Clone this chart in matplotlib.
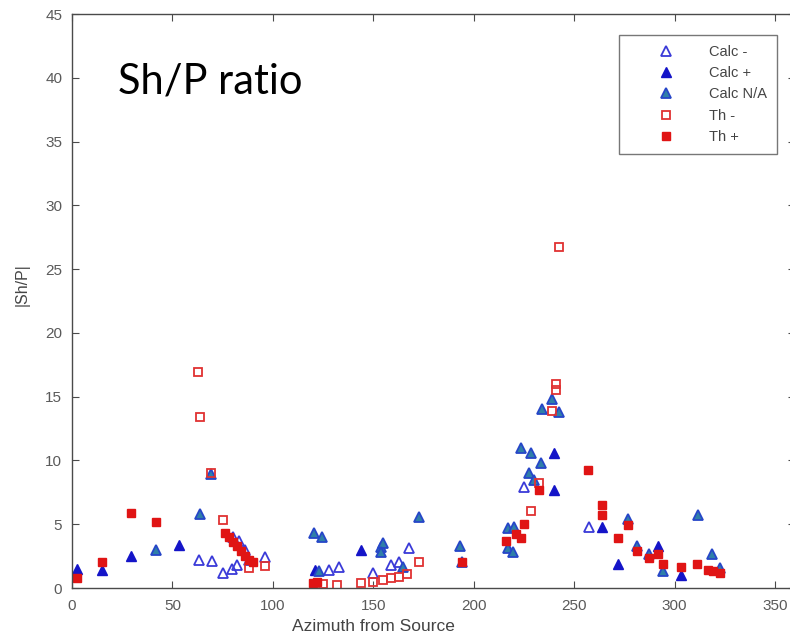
import matplotlib
matplotlib.use("Agg")
import matplotlib.pyplot as plt

# Azimuth (deg) and |Sh/P| per category
calc_minus_az = [63, 69.5, 75, 79.7, 80, 82, 83, 86, 88, 96, 127.8, 132.7, 150, 158.7, 162.7, 167.7, 225, 257.5]
calc_minus_r = [2.2, 2.1, 1.2, 1.5, 4.0, 1.8, 3.7, 3.0, 2.2, 2.4, 1.4, 1.65, 1.2, 1.8, 2.0, 3.1, 7.9, 4.8]

calc_plus_az = [2.5, 15, 29.5, 53.5, 121, 143.7, 240, 240, 264, 271.8, 291.8, 303.4]
calc_plus_r = [1.5, 1.4, 2.5, 3.4, 1.4, 3.0, 10.6, 7.7, 4.8, 1.9, 3.3, 1.0]

calc_na_az = [42, 63.5, 69, 120.4, 124.6, 123, 153.7, 155, 153.7, 165, 173, 193, 194.4,
              217, 220, 217, 219.5, 223.6, 228.5, 233.5, 227.5, 230, 234, 239, 242.5,
              277, 281.3, 287.4, 294.2, 311.7, 318.7, 322.5]
calc_na_r = [3.0, 5.8, 8.9, 4.3, 4.0, 1.3, 3.2, 3.5, 2.8, 1.65, 5.6, 3.3, 2.0,
             4.7, 4.8, 3.1, 2.8, 11.0, 10.6, 9.8, 9.0, 8.5, 14.0, 14.8, 13.8,
             5.4, 3.3, 2.7, 1.3, 5.7, 2.7, 1.6]

th_minus_az = [62.7, 63.5, 69, 75, 88, 96, 125, 132, 143.7, 150, 155, 159, 163, 167, 173,
               228.5, 232.5, 239, 241, 241, 242.5]
th_minus_r = [16.9, 13.4, 9.0, 5.3, 1.6, 1.7, 0.3, 0.2, 0.4, 0.5, 0.6, 0.8, 0.9, 1.1, 2.0,
              6.0, 8.2, 13.9, 15.5, 16.0, 26.7]

th_plus_az = [2.3, 15, 29.5, 42, 76, 78, 80, 82, 84, 86, 88, 90, 120, 122, 194.4,
              216, 221, 223.6, 225, 232.5, 257, 264, 264, 271.8, 277, 281.3, 287.4,
              291.8, 294.2, 303.4, 311, 316.7, 319.2, 322.5]
th_plus_r = [0.8, 2.0, 5.9, 5.2, 4.3, 4.0, 3.6, 3.3, 2.9, 2.5, 2.2, 2.0, 0.4, 0.5, 2.0,
             3.7, 4.2, 3.9, 5.0, 7.7, 9.25, 6.5, 5.7, 3.9, 4.9, 2.9, 2.35,
             2.7, 1.9, 1.65, 1.9, 1.4, 1.3, 1.2]

plt.rcParams["font.family"] = ["Liberation Sans", "DejaVu Sans"]

fig = plt.figure(figsize=(7.9, 6.43), dpi=100)
W, H = 790, 643
ax = fig.add_axes([72 / W, (H - 588) / H, 723 / W, 574 / H])

ms = 7
ax.plot(calc_minus_az, calc_minus_r, ls="none", marker="^", ms=ms, mfc="none",
        mec="#3a3ad8", mew=1.3, label="Calc -")
ax.plot(calc_plus_az, calc_plus_r, ls="none", marker="^", ms=ms, mfc="#1414c8",
        mec="#1414c8", mew=1.0, label="Calc +")
ax.plot(calc_na_az, calc_na_r, ls="none", marker="^", ms=ms, mfc="#2f7fa8",
        mec="#2646c8", mew=1.3, label="Calc N/A")
ax.plot(th_minus_az, th_minus_r, ls="none", marker="s", ms=6, mfc="none",
        mec="#e03232", mew=1.3, label="Th -")
ax.plot(th_plus_az, th_plus_r, ls="none", marker="s", ms=6, mfc="#e01414",
        mec="#e01414", mew=1.0, label="Th +")

ax.set_xlim(0, 360)
ax.set_ylim(0, 45)
ax.set_xticks(range(0, 351, 50))
ax.set_yticks(range(0, 46, 5))

spine_c = "#4a4a4a"
for s in ax.spines.values():
    s.set_color(spine_c)
    s.set_linewidth(1.0)
ax.tick_params(direction="in", length=5, width=0.8, color=spine_c,
               top=True, right=True, labelsize=11, labelcolor="#5a5a5a")
ax.tick_params(axis="x", pad=8)
ax.tick_params(axis="y", pad=7)

ax.set_xlabel("Azimuth from Source", fontsize=12.5, color="#444444")
ax.xaxis.set_label_coords((373 - 72) / 723, (588 - 619) / 574)
ax.set_ylabel("|Sh/P|", fontsize=11.5, color="#444444")
ax.yaxis.set_label_coords((30 - 72) / 723, (588 - 285) / 574)

ax.text(0.064, 0.862, "Sh/P ratio", transform=ax.transAxes, fontsize=30,
        family=["Lato", "DejaVu Sans"], va="baseline", ha="left", color="black")

leg = ax.legend(loc="upper right", bbox_to_anchor=((777 - 72) / 723, (588 - 35) / 574),
                borderaxespad=0, fontsize=10.5, frameon=True, fancybox=False,
                handlelength=5.1, handletextpad=0.4, borderpad=0.67,
                labelspacing=0.5, numpoints=1)
leg.get_frame().set_edgecolor("#555555")
leg.get_frame().set_linewidth(1.0)
for t in leg.get_texts():
    t.set_color("#444444")

fig.savefig("out.png", dpi=100)
